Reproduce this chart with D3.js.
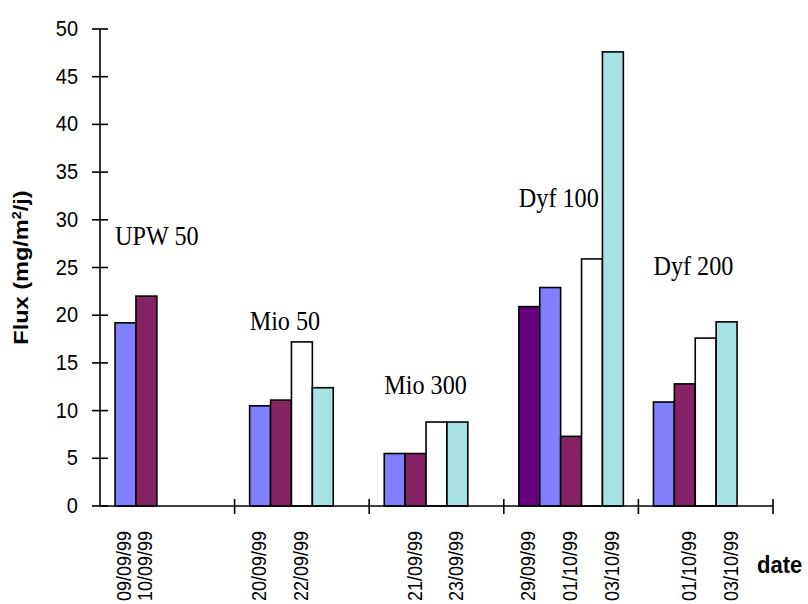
<!DOCTYPE html>
<html><head><meta charset="utf-8">
<script src="https://cdn.jsdelivr.net/npm/d3@7/dist/d3.min.js"></script>
<style>
html,body{margin:0;padding:0;background:#fff;}
svg{display:block;}
</style></head>
<body>
<svg id="chart" width="808" height="604"></svg>
<script>
// ---- data ----
const groups = ["UPW 50", "Mio 50", "Mio 300", "Dyf 100", "Dyf 200"];
// each bar: group index, slot index within group, series key, value
const barGroup = [0,0, 1,1,1,1, 2,2,2,2, 3,3,3,3,3, 4,4,4,4];
const barSlot  = [0,1, 0,1,2,3, 0,1,2,3, 0,1,2,3,4, 0,1,2,3];
const barSeries= ["blue","plum", "blue","plum","white","cyan", "blue","plum","white","cyan",
                  "violet","blue","plum","white","cyan", "blue","plum","white","cyan"];
const barValue = [19.2,22.0, 10.5,11.1,17.2,12.4, 5.5,5.5,8.8,8.8, 20.9,22.9,7.3,25.9,47.6, 10.9,12.8,17.6,19.3];
// date labels under bars: group, slot, text
const dateGroup = [0,0, 1,1, 2,2, 3,3,3, 4,4];
const dateSlot  = [0,1, 0,2, 1,3, 0,2,4, 1.25,3.25];
const dateText  = ["09/09/99","10/09/99","20/09/99","22/09/99","21/09/99","23/09/99",
                   "29/09/99","01/10/99","03/10/99","01/10/99","03/10/99"];
// group label anchor value (height at which label is placed)
const groupLabelValue = [27.4, 18.5, 11.7, 31.3, 24.2];
const yTicks = [0,5,10,15,20,25,30,35,40,45,50];
const seriesColor = {blue:"#8080ff", plum:"#842264", violet:"#650080", white:"#ffffff", cyan:"#a6e2e2"};

(function(){
// ---- layout ----
const svg = d3.select("#chart");
const mLeft = 100, mRight = 773, mTop = 29, mBottom = 506;
const y = d3.scaleLinear().domain([0,50]).range([mBottom, mTop]);
const xg = d3.scaleBand().domain(d3.range(groups.length)).range([mLeft, mRight]).padding(0);
const xs = d3.scaleBand().domain(d3.range(5)).range([0, xg.bandwidth()]).paddingInner(0).paddingOuter(0.72);
const slotX = (g, s) => xg(g) + xs(0) + s * xs.step();

const bars = barValue.map((v,i)=>({v, g:barGroup[i], s:barSlot[i], c:seriesColor[barSeries[i]]}));

svg.append("g").selectAll("rect").data(bars).join("rect")
  .attr("x", d => slotX(d.g, d.s))
  .attr("y", d => y(d.v))
  .attr("width", xs.bandwidth())
  .attr("height", d => y(0) - y(d.v))
  .attr("fill", d => d.c)
  .attr("stroke", "#000")
  .attr("stroke-width", 1.6);

// y axis
const yAxis = svg.append("g");
yAxis.append("line").attr("x1", mLeft).attr("x2", mLeft).attr("y1", y(50)).attr("y2", y(0))
  .attr("stroke","#000").attr("stroke-width",1.6);
yAxis.selectAll("line.t").data(yTicks).join("line").attr("class","t")
  .attr("x1", mLeft-8).attr("x2", mLeft+8).attr("y1", d=>y(d)).attr("y2", d=>y(d))
  .attr("stroke","#000").attr("stroke-width",1.6);
yAxis.selectAll("text").data(yTicks).join("text")
  .attr("transform", d => `translate(${mLeft-22},${y(d)+7}) scale(1,1.12)`)
  .attr("text-anchor","end")
  .attr("font-family","Liberation Sans, Arial, sans-serif")
  .attr("font-size", 20)
  .text(d=>d);

// x axis
const xAxis = svg.append("g");
xAxis.append("line").attr("x1", mLeft).attr("x2", mRight).attr("y1", y(0)).attr("y2", y(0))
  .attr("stroke","#000").attr("stroke-width",1.6);
const bounds = d3.range(groups.length+1).map(i => i < groups.length ? xg(i) : mRight);
xAxis.selectAll("line.t").data(bounds.slice(1)).join("line").attr("class","t")
  .attr("x1", d=>d).attr("x2", d=>d).attr("y1", y(0)-7).attr("y2", y(0)+8)
  .attr("stroke","#000").attr("stroke-width",1.6);

// date labels
svg.append("g").selectAll("text").data(dateText).join("text")
  .attr("transform", (d,i) => `translate(${slotX(dateGroup[i], dateSlot[i]) + xs.bandwidth()/2 + 6},${mBottom+25}) rotate(-90) scale(1,1.12)`)
  .attr("text-anchor","end")
  .attr("font-family","Liberation Sans, Arial, sans-serif")
  .attr("font-size", 18)
  .text(d=>d);

// group labels
svg.append("g").selectAll("text").data(groups).join("text")
  .attr("transform", (d,i) => `translate(${xg(i) + xs(0)},${y(groupLabelValue[i])}) scale(1.03,1.12)`)
  .attr("font-family","Liberation Serif, Times New Roman, serif")
  .attr("font-size", 23.5)
  .text(d=>d);

// axis titles
svg.append("text")
  .attr("transform", `translate(28,${(mTop+mBottom)/2}) rotate(-90) scale(1.12,1)`)
  .attr("text-anchor","middle")
  .attr("font-family","Liberation Sans, Arial, sans-serif")
  .attr("font-weight","bold")
  .attr("font-size", 21)
  .html('Flux (mg/m<tspan baseline-shift="super" font-size="13">2</tspan>/j)');

svg.append("text")
  .attr("transform", `translate(757,573) scale(1.05,1.12)`)
  .attr("font-family","Liberation Sans, Arial, sans-serif")
  .attr("font-weight","bold")
  .attr("font-size", 21)
  .text("date");
})();
</script>
</body></html>
